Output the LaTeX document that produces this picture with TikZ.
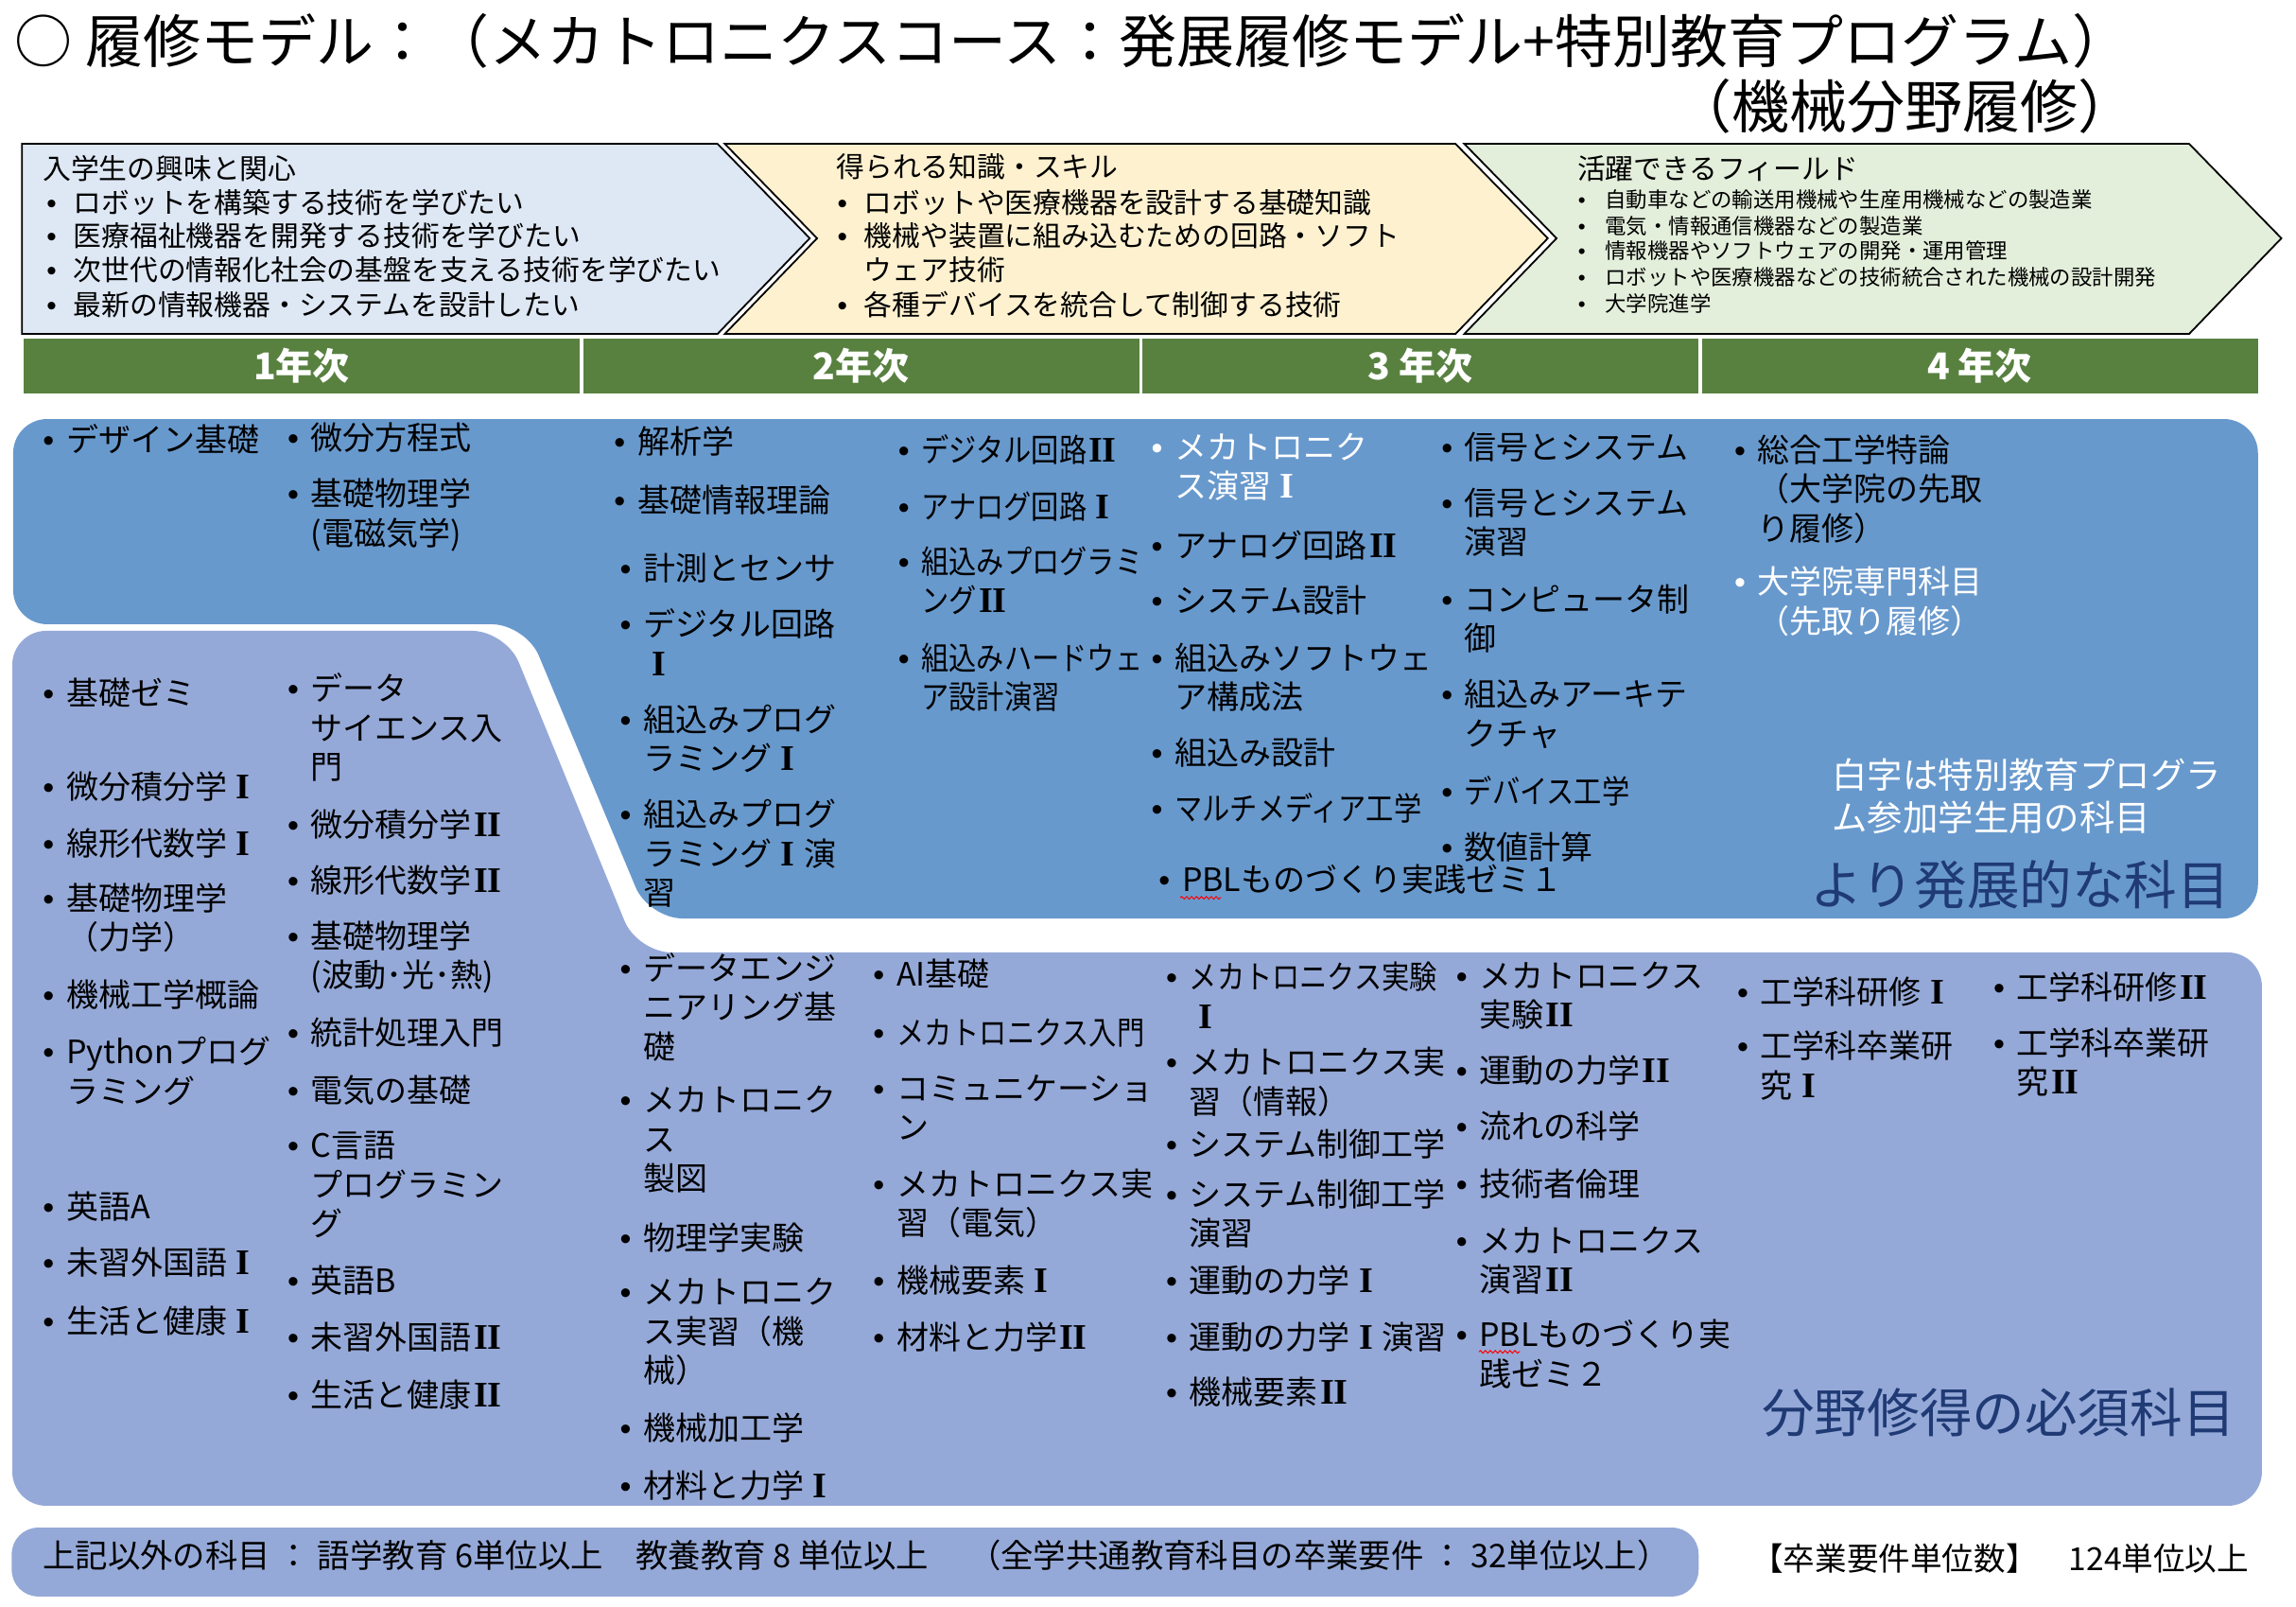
\documentclass[tikz,border=0pt]{standalone}
\usepackage{fontspec}
\setmainfont{Noto Sans CJK JP}
\newfontfamily\jpc[FakeStretch=0.86]{Noto Sans CJK JP}
\newfontfamily\lib{Liberation Sans}
\newfontfamily\lsb{Liberation Serif Bold}
\usetikzlibrary{decorations.pathmorphing}
\definecolor{upb}{HTML}{6899CD}
\definecolor{lob}{HTML}{95A9D8}
\definecolor{ygreen}{HTML}{588140}
\definecolor{cA}{HTML}{DEE7F4}
\definecolor{cB}{HTML}{FDF1D0}
\definecolor{cC}{HTML}{E3EEDB}
\definecolor{navy}{HTML}{1F3A74}
\newcounter{tc}
\newcommand\bw{12pt}
\newcommand\RI{\makebox[1em]{\lsb\scalebox{1.12}{I}}}
\newcommand\RII{\makebox[1em]{\lsb\scalebox{1.12}{I\kern-0.02em I}}}
\newcommand\lns[1]{\vtop{\lineskiplimit=-\maxdimen\let\\\cr\halign{##\hfil\cr#1\crcr}}}
\newcommand\bl[1]{\makebox[\bw][l]{\lib •}\lns{#1}}
\newcommand\itm[4][]{\stepcounter{tc}\node[ub,#1] (it\arabic{tc}) at (#2,#3) {\bl{#4}};}
\begin{document}
\begin{tikzpicture}[x=0.77425pt,y=-0.77425pt,
  ub/.style={anchor=base west,inner sep=0pt,font=\fontsize{17pt}{20.7pt}\selectfont,xshift=-3pt,yshift=-6.5pt,execute at begin node={\def\bw{12.3pt}}},
  cond/.style={font=\jpc\fontsize{17pt}{20.7pt}\selectfont},
  cv/.style={font=\fontsize{14.9pt}{18pt}\selectfont,xshift=0.4pt,yshift=0.8pt,execute at begin node={\def\bw{14.2pt}}},
  cs/.style={font=\fontsize{11.2pt}{13.7pt}\selectfont,xshift=1pt,yshift=2.2pt,execute at begin node={\def\bw{14.4pt}}},
  hd/.style={anchor=base west,inner sep=0pt,font=\fontsize{14.9pt}{18pt}\selectfont,yshift=-5.7pt},
  chev/.style={draw=black,line width=0.9pt},
  yr/.style={fill=ygreen,text=white,inner sep=0pt,minimum width=294pt,minimum height=29pt,font=\bfseries\fontsize{19.5pt}{22pt}\selectfont},
  big/.style={anchor=base west,inner sep=0pt,text=navy,font=\fontsize{27.8pt}{32pt}\selectfont},
  wavy/.style={red,line width=0.5pt,decorate,decoration={snake,amplitude=0.7pt,segment length=2.6pt}}]
\useasboundingbox (0,0) rectangle (1568,1097);
% title
\node[anchor=base west,inner sep=0pt,font=\fontsize{30.5pt}{36pt}\selectfont] (title) at (10,42.7) {○ 履修モデル：（メカトロニクスコース：発展履修モデル+特別教育プログラム）};
\node[anchor=base east,inner sep=0pt,font=\fontsize{30.5pt}{36pt}\selectfont] (title2) at (1459,87.7) {（機械分野履修）};
% chevrons
\draw[chev,fill=cA] (15,98.2) -- (490,98.2) -- (553,162.7) -- (490,228) -- (15,228) -- cycle;
\draw[chev,fill=cB] (495,98.2) -- (994,98.2) -- (1057,162.7) -- (994,228) -- (495,228) -- (558,162.7) -- cycle;
\draw[chev,fill=cC] (1000,98.2) -- (1495,98.2) -- (1558,162.7) -- (1495,228) -- (1000,228) -- (1063,162.7) -- cycle;
\node[hd] (h1) at (29,115) {入学生の興味と関心};
\itm[cv]{35}{138}{ロボットを構築する技術を学びたい}
\itm[cv]{35}{161}{医療福祉機器を開発する技術を学びたい}
\itm[cv]{35}{184}{次世代の情報化社会の基盤を支える技術を学びたい}
\itm[cv]{35}{208}{最新の情報機器・システムを設計したい}
\node[hd] (h2) at (571,114) {得られる知識・スキル};
\itm[cv]{575}{138}{ロボットや医療機器を設計する基礎知識}
\itm[cv]{575}{161}{機械や装置に組み込むための回路・ソフト\\ウェア技術}
\itm[cv]{575}{208}{各種デバイスを統合して制御する技術}
\node[hd] (h3) at (1077,115) {活躍できるフィールド};
\itm[cs]{1080}{136}{自動車などの輸送用機械や生産用機械などの製造業}
\itm[cs]{1080}{154}{電気・情報通信機器などの製造業}
\itm[cs]{1080}{171}{情報機器やソフトウェアの開発・運用管理}
\itm[cs]{1080}{189}{ロボットや医療機器などの技術統合された機械の設計開発}
\itm[cs]{1080}{207}{大学院進学}
% year bar
\node[yr] (y1) at (206,249.7) {1年次};
\node[yr] (y2) at (588,249.7) {2年次};
\node[yr] (y3) at (970,249.7) {3 年次};
\node[yr] (y4) at (1352,249.7) {4 年次};
% boxes
\fill[upb,rounded corners=18pt] (9,286.1) -- (1542,286.1) -- (1542,627.1) -- (443,627.1) -- (359,426.2) -- (9,426.2) -- cycle;
\fill[lob,rounded corners=18pt] (8.4,430.7) -- (345.5,430.7) -- (435.3,650.3) -- (1544.7,650.3) -- (1544.7,1028.1) -- (8.4,1028.1) -- cycle;
% upper items
\itm{33}{300}{デザイン基礎}
\itm{200}{299}{微分方程式}
\itm{200}{337}{基礎物理学\\(電磁気学)}
\itm{423}{301}{解析学}
\itm{423}{341}{基礎情報理論}
\itm{427}{388}{計測とセンサ}
\itm{427}{426}{デジタル回路\\\RI}
\itm{427}{491}{組込みプログ\\ラミング\RI}
\itm{427}{556}{組込みプログ\\ラミング\RI 演\\習}
\itm[cond]{617}{307}{デジタル回路\RII}
\itm[cond]{617}{346}{アナログ回路\RI}
\itm[cond]{617}{383}{組込みプログラミ\\ング\RII}
\itm[cond]{617}{449}{組込みハードウェ\\ア設計演習}
\itm[text=white]{790}{305}{メカトロニク\\ス演習\RI}
\itm{790}{372}{アナログ回路\RII}
\itm{790}{410}{システム設計}
\itm{790}{449}{組込みソフトウェ\\ア構成法}
\itm{790}{514}{組込み設計}
\itm[cond]{790}{552}{マルチメディア工学}
\itm{795}{600}{PBLものづくり実践ゼミ１}
\itm{988}{305}{信号とシステム}
\itm{988}{343}{信号とシステム\\演習}
\itm{988}{409}{コンピュータ制\\御}
\itm{988}{474}{組込みアーキテ\\クチャ}
\itm[cond]{988}{540}{デバイス工学}
\itm{988}{578}{数値計算}
\itm{1188}{307}{総合工学特論\\（大学院の先取\\り履修）}
\itm[text=white]{1188}{397}{大学院専門科目\\（先取り履修）}
\node[anchor=base west,inner sep=0pt,text=white,font=\fontsize{18.7pt}{22.5pt}\selectfont] (wnote) at (1251,538) {\lns{白字は特別教育プログラ\\ム参加学生用の科目}};
\node[big] (adv) at (1236,618) {より発展的な科目};
% lower items
\itm{33}{473}{基礎ゼミ}
\itm{33}{537}{微分積分学\RI}
\itm{33}{576}{線形代数学\RI}
\itm{33}{613}{基礎物理学\\（力学）}
\itm{33}{679}{機械工学概論}
\itm{33}{718}{Pythonプログ\\ラミング}
\itm{33}{824}{英語A}
\itm{33}{862}{未習外国語\RI}
\itm{33}{902}{生活と健康\RI}
\itm{200}{470}{データ\\サイエンス入\\門}
\itm{200}{563}{微分積分学\RII}
\itm{200}{601}{線形代数学\RII}
\itm{200}{639}{基礎物理学\\(波動･光･熱)}
\itm{200}{705}{統計処理入門}
\itm{200}{744}{電気の基礎}
\itm{200}{782}{C言語\\プログラミン\\グ}
\itm{200}{874}{英語B}
\itm{200}{913}{未習外国語\RII}
\itm{200}{952}{生活と健康\RII}
\itm{427}{661}{データエンジ\\ニアリング基\\礎}
\itm{427}{751}{メカトロニク\\ス\\製図}
\itm{427}{845}{物理学実験}
\itm{427}{882}{メカトロニク\\ス実習（機\\械）}
\itm{427}{975}{機械加工学}
\itm{427}{1014}{材料と力学\RI}
\itm{600}{665}{AI基礎}
\itm[cond]{600}{705}{メカトロニクス入門}
\itm{600}{743}{コミュニケーショ\\ン}
\itm{600}{808}{メカトロニクス実\\習（電気）}
\itm{600}{874}{機械要素\RI}
\itm{600}{913}{材料と力学\RII}
\itm[cond]{800}{667}{メカトロニクス実験\\\RI}
\itm{800}{725}{メカトロニクス実\\習（情報）}
\itm{800}{781}{システム制御工学}
\itm{800}{815}{システム制御工学\\演習}
\itm{800}{874}{運動の力学\RI}
\itm{800}{913}{運動の力学\RI 演習}
\itm{800}{950}{機械要素\RII}
\itm{998}{666}{メカトロニクス\\実験\RII}
\itm{998}{731}{運動の力学\RII}
\itm{998}{769}{流れの科学}
\itm{998}{808}{技術者倫理}
\itm{998}{847}{メカトロニクス\\演習\RII}
\itm{998}{911}{PBLものづくり実\\践ゼミ２}
\itm{1190}{677}{工学科研修\RI}
\itm{1190}{714}{工学科卒業研\\究\RI}
\itm{1365}{674}{工学科研修\RII}
\itm{1365}{712}{工学科卒業研\\究\RII}
\node[big] (req) at (1203,978) {分野修得の必須科目};
% spell-check marks
\draw[wavy] (806,613) -- (834,613);
\draw[wavy] (1010,923) -- (1038,923);
% footer
\fill[lob,rounded corners=14pt] (8,1043) rectangle (1160,1090);
\node[anchor=base west,inner sep=0pt,font=\fontsize{17.2pt}{20pt}\selectfont] (foot) at (29,1070.4) {上記以外の科目 ： 語学教育 6単位以上　教養教育 8 単位以上　 （全学共通教育科目の卒業要件 ： 32単位以上）};
\node[anchor=base west,inner sep=0pt,font=\fontsize{16.8pt}{20pt}\selectfont] (grad1) at (1196,1072.4) {【卒業要件単位数】};
\node[anchor=base east,inner sep=0pt,font=\fontsize{16.8pt}{20pt}\selectfont] (grad2) at (1536,1072.4) {124単位以上};
\end{tikzpicture}
\end{document}
